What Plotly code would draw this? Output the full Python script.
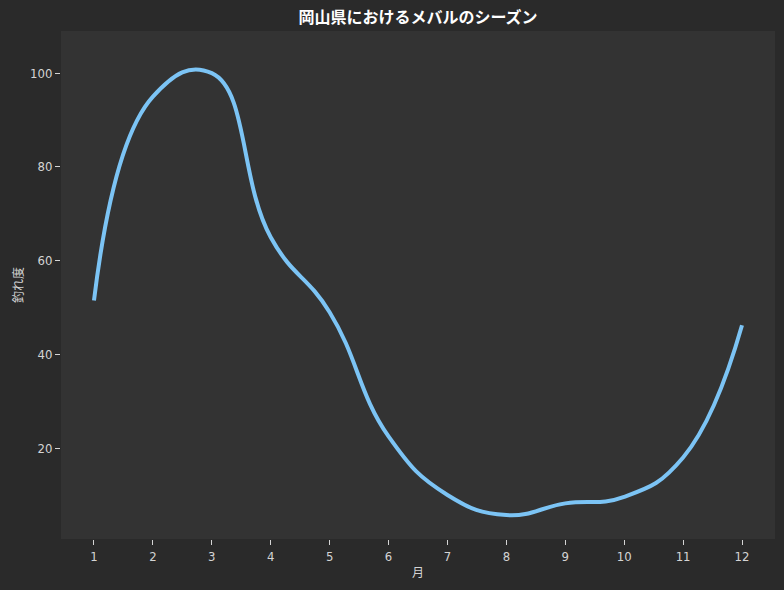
import plotly.graph_objects as go

months = [1, 2, 3, 4, 5, 6, 7, 8, 9, 10, 11, 12]
catch_index = [51.5, 95, 100, 65, 49, 22.5, 10, 5.7, 8.2, 9.6, 18, 46.2]
tick_vals = [20, 40, 60, 80, 100]

fig = go.Figure()
fig.add_trace(go.Scatter(
    x=months, y=catch_index, mode="lines",
    line=dict(color="#7cc4f5", width=4, shape="spline", smoothing=1.3),
    showlegend=False, hoverinfo="skip",
))

font_family = "DejaVu Sans Condensed, Noto Sans CJK JP"
fig.update_layout(
    width=784, height=590,
    paper_bgcolor="#2a2a2a", plot_bgcolor="#333333",
    margin=dict(l=61, r=9, t=31, b=51),
    font=dict(family=font_family, color="#d4d4d4", size=13),
    title=dict(text="<b>岡山県におけるメバルのシーズン</b>", x=0.5, xref="paper",
               y=1 - 17 / 590, yref="container", yanchor="middle",
               font=dict(family="Noto Sans CJK JP", size=16, color="#ffffff")),
)
fig.update_xaxes(
    range=[0.44, 12.56], tickmode="array", tickvals=months,
    ticks="outside", ticklen=5, tickcolor="#d4d4d4", showgrid=False,
    zeroline=False, showline=False,
    title=dict(text="月", font=dict(family="Noto Sans CJK JP", size=12), standoff=6),
)
fig.update_yaxes(
    range=[0.6, 109], tickmode="array", tickvals=tick_vals,
    ticks="outside", ticklen=5, tickcolor="#d4d4d4", showgrid=False,
    zeroline=False, showline=False,
    title=dict(text="釣れ度", font=dict(family="Noto Sans CJK JP", size=12), standoff=3),
)
fig.write_html(
    "out.html",
    config={"displayModeBar": False},
    post_script="document.body.style.margin='0';document.body.style.background='#2a2a2a';",
)
